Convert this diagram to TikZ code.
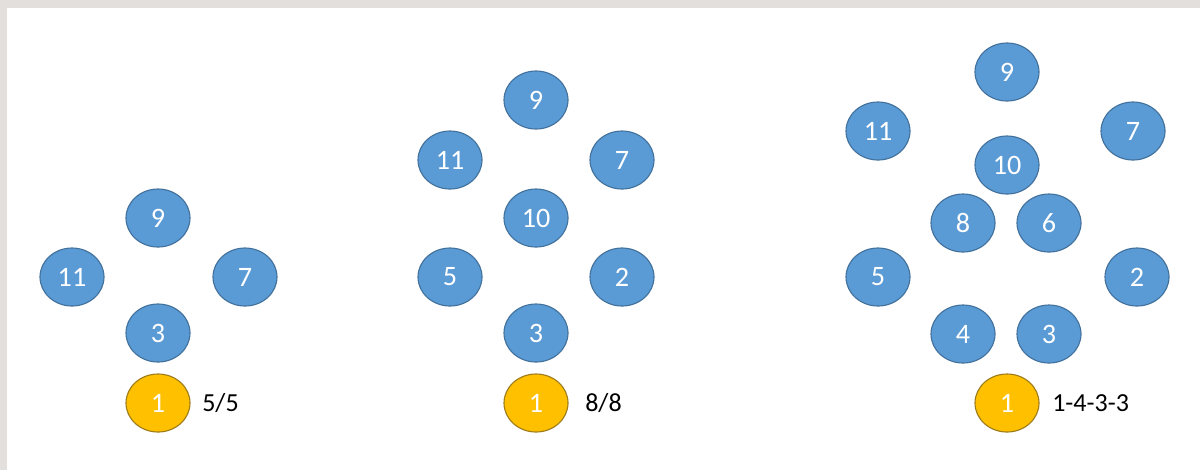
\documentclass[tikz,border=0pt]{standalone}
\usepackage{fontspec}
\setmainfont{Carlito}
\usetikzlibrary{shapes.geometric}
\definecolor{bluefill}{HTML}{5B9BD5}
\definecolor{blueline}{HTML}{41719C}
\definecolor{goldfill}{HTML}{FFC000}
\definecolor{goldline}{HTML}{9E7C1A}
\definecolor{bgstrip}{HTML}{E3DFDD}
\tikzset{
  ball/.style={ellipse, draw=blueline, fill=bluefill, line width=0.8pt,
    minimum width=64*0.025cm, minimum height=58*0.025cm, inner sep=0pt,
    text=white, font=\fontsize{20}{24}\selectfont},
  goldball/.style={ball, draw=goldline, fill=goldfill},
  tag/.style={anchor=west, inner sep=0pt, text=black, font=\fontsize{18.5}{22}\selectfont}
}
\begin{document}
\begin{tikzpicture}[x=0.025cm, y=-0.025cm]
\useasboundingbox (0,0) rectangle (1200,470);
\fill[bgstrip] (0,0) rectangle (1200,470);
\fill[white] (7,8) rectangle (1200,470);
% panel 1
\node[ball] (a9) at (158,218) {9};
\node[ball] (a11) at (72,277) {11};
\node[ball] (a7) at (245,277) {7};
\node[ball] (a3) at (158,333) {3};
\node[goldball] (a1) at (158,403) {1};
\node[tag] (at) at (202,403) {5/5};
% panel 2
\node[ball] (b9) at (536,100) {9};
\node[ball] (b11) at (450,160) {11};
\node[ball] (b7) at (622,160) {7};
\node[ball] (b10) at (536,218) {10};
\node[ball] (b5) at (450,277) {5};
\node[ball] (b2) at (622,277) {2};
\node[ball] (b3) at (536,333) {3};
\node[goldball] (b1) at (536,403) {1};
\node[tag] (bt) at (585,403) {8/8};
% panel 3
\node[ball] (c9) at (1007,72) {9};
\node[ball] (c11) at (878,131) {11};
\node[ball] (c7) at (1133,131) {7};
\node[ball] (c10) at (1007,165) {10};
\node[ball] (c8) at (963,223) {8};
\node[ball] (c6) at (1049,223) {6};
\node[ball] (c5) at (878,277) {5};
\node[ball] (c2) at (1137,277) {2};
\node[ball] (c4) at (963,334) {4};
\node[ball] (c3) at (1049,334) {3};
\node[goldball] (c1) at (1007,403) {1};
\node[tag] (ct) at (1052,403) {1-4-3-3};
\end{tikzpicture}
\end{document}
